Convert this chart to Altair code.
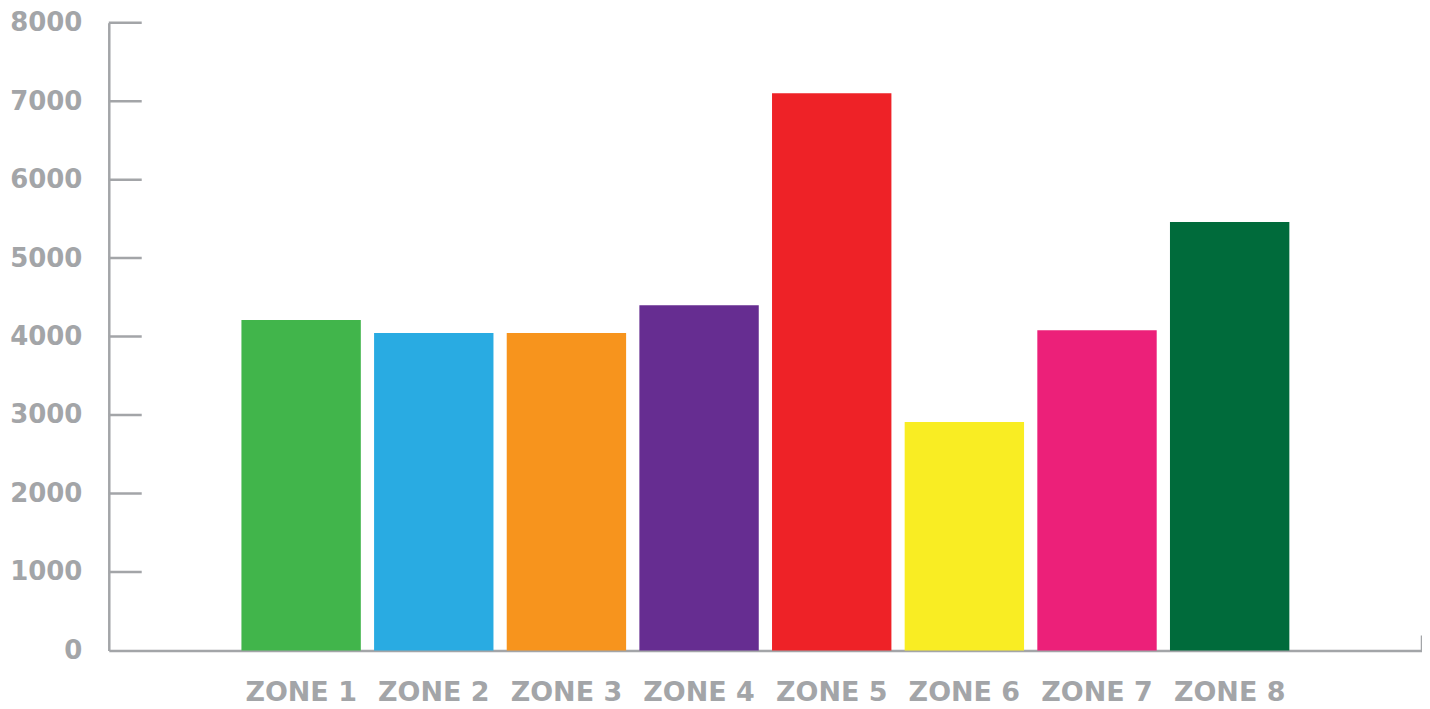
import altair as alt
import pandas as pd

zones = ["ZONE 1", "ZONE 2", "ZONE 3", "ZONE 4", "ZONE 5", "ZONE 6", "ZONE 7", "ZONE 8"]
values = [4210, 4045, 4045, 4400, 7100, 2910, 4080, 5460]
colors = ["#41b54b", "#29abe2", "#f7941d", "#662d91", "#ee2227", "#f9ed23", "#ec2079", "#006b3b"]
y_ticks = [0, 1000, 2000, 3000, 4000, 5000, 6000, 7000, 8000]

GRAY = "#a3a5a8"
FONT = "DejaVu Sans"

df = pd.DataFrame({"zone": zones, "value": values})
tick_df = pd.DataFrame({"v": [t for t in y_ticks if t > 0]})

W, H = 1316, 629

bars = alt.Chart(df).mark_bar().encode(
    x=alt.X(
        "zone:N",
        sort=zones,
        scale=alt.Scale(paddingInner=0.1, paddingOuter=1),
        axis=alt.Axis(
            title=None, labelAngle=0, ticks=False, tickSize=0,
            labelPadding=29, labelFontSize=27, labelFontWeight="bold",
            labelFont=FONT, labelColor=GRAY, domainColor=GRAY, domainWidth=2.5,
            grid=False,
        ),
    ),
    y=alt.Y(
        "value:Q",
        scale=alt.Scale(domain=[0, 8000], nice=False),
        axis=alt.Axis(
            title=None, values=y_ticks, format="d", ticks=False, tickSize=0,
            labelPadding=27, labelFontSize=26, labelFontWeight="bold",
            labelFont=FONT, labelColor=GRAY, domainColor=GRAY, domainWidth=2.5,
            grid=False, labelBaseline="middle",
        ),
    ),
    color=alt.Color("zone:N", scale=alt.Scale(domain=zones, range=colors), legend=None),
)

ticks = alt.Chart(tick_df).mark_rule(color=GRAY, strokeWidth=2.5).encode(
    y=alt.Y("v:Q"),
    x=alt.value(0),
    x2=alt.value(33),
)

end_tick = alt.Chart(pd.DataFrame({"a": [0]})).mark_rule(color=GRAY, strokeWidth=2.5).encode(
    x=alt.value(W),
    y=alt.value(H - 15),
    y2=alt.value(H),
)

chart = alt.layer(bars, ticks, end_tick).properties(
    width=W,
    height=H,
    autosize="none",
    padding={"left": 101, "top": 14, "right": 0, "bottom": 58},
    background="white",
).configure_view(stroke=None)

chart.save("out.html", embed_options={"renderer": "svg", "actions": False})
